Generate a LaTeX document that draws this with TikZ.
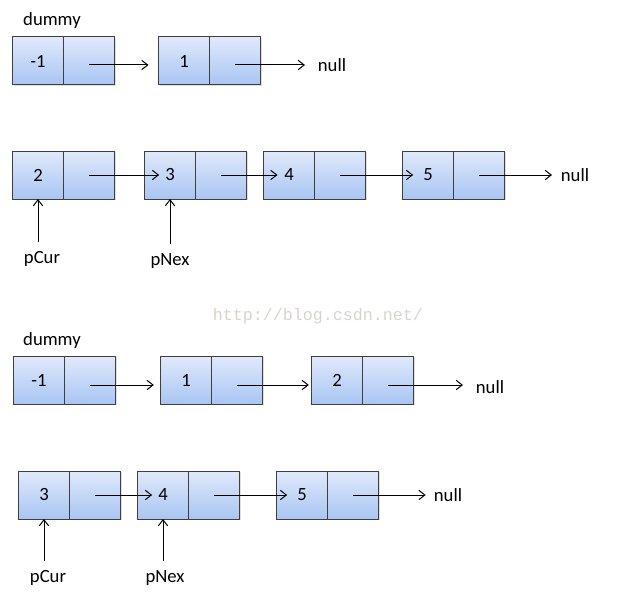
\documentclass[tikz,border=0pt]{standalone}
\usepackage{fontspec}
\setmainfont{Carlito}
\newfontfamily\markfont{Liberation Mono}
\usetikzlibrary{positioning,arrows.meta,shadows}
\definecolor{celltop}{HTML}{E0E9FB}
\definecolor{cellbot}{HTML}{A9C5F3}
\definecolor{celledge}{HTML}{3F3F3F}
\definecolor{markgray}{HTML}{D8D4CC}
\tikzset{
  cell/.style={draw=celledge, line width=0.75pt, top color=celltop, bottom color=cellbot,
    minimum width=38.25pt, minimum height=36pt, inner sep=0pt, outer sep=0pt,
    drop shadow={opacity=0.25, shadow xshift=0.8pt, shadow yshift=-0.8pt}},
  txt/.style={font=\fontsize{14}{17}\selectfont, inner sep=2pt},
  link/.style={line width=0.75pt, -{Straight Barb[length=4.5pt,width=7pt]}}
}
\begin{document}
\begin{tikzpicture}[x=0.75pt, y=-0.75pt]
  \useasboundingbox (0,0) rectangle (617,610);
  % first list
  \node[txt] (d1) at (52,21) {dummy};
  \node[cell,txt] (v11) at (38,61) {-1};
  \node[cell] (p11) [right=0pt of v11] {};
  \node[cell,txt] (v12) at (184,61) {1};
  \node[cell] (p12) [right=0pt of v12] {};
  \node[txt] (n1) at (332,65) {null};
  \draw[link] ([yshift=-3pt]p11.center) -- ([xshift=-7.5pt,yshift=-3pt]v12.west);
  \draw[link] ([yshift=-3pt]p12.center) -- ([xshift=-7.5pt,yshift=-3pt]n1.west |- p12.center);
  % second list
  \node[cell,txt] (v21) at (38,175) {2};
  \node[cell] (p21) [right=0pt of v21] {};
  \node[cell,txt] (v22) at (170,175) {3};
  \node[cell] (p22) [right=0pt of v22] {};
  \node[cell,txt] (v23) at (289,175) {4};
  \node[cell] (p23) [right=0pt of v23] {};
  \node[cell,txt] (v24) at (428,175) {5};
  \node[cell] (p24) [right=0pt of v24] {};
  \node[txt] (n2) at (575,175) {null};
  \draw[link] (p21.center) -- ([xshift=11pt]v22.west);
  \draw[link] (p22.center) -- ([xshift=10.5pt]v23.west);
  \draw[link] (p23.center) -- ([xshift=8pt]v24.west);
  \draw[link] (p24.center) -- ([xshift=-4.5pt]n2.west);
  \node[txt] (c2) at (42,259) {pCur};
  \node[txt] (x2) at (170,261) {pNex};
  \draw[link] ([yshift=5pt]v21.south |- c2.north) -- (v21.south);
  \draw[link] ([yshift=5pt]v22.south |- x2.north) -- (v22.south);
  % watermark
  \node[font=\markfont\fontsize{12.5}{15}\selectfont, text=markgray] (wm) at (318,316) {http://blog.csdn.net/};
  % third list
  \node[txt] (d3) at (52,341) {dummy};
  \node[cell,txt] (v31) at (39,380) {-1};
  \node[cell] (p31) [right=0pt of v31] {};
  \node[cell,txt] (v32) at (186,380) {1};
  \node[cell] (p32) [right=0pt of v32] {};
  \node[cell,txt] (v33) at (337,380) {2};
  \node[cell] (p33) [right=0pt of v33] {};
  \node[txt] (n3) at (490,387) {null};
  \draw[link] ([yshift=-3.75pt]p31.center) -- ([xshift=-5pt,yshift=-3.75pt]v32.west);
  \draw[link] ([yshift=-3.75pt]p32.center) -- ([xshift=-2pt,yshift=-3.75pt]v33.west);
  \draw[link] ([yshift=-3.75pt]p33.center) -- ([xshift=-7.5pt,yshift=-3.75pt]n3.west |- p33.center);
  % fourth list
  \node[cell,txt] (v41) at (44,495) {3};
  \node[cell] (p41) [right=0pt of v41] {};
  \node[cell,txt] (v42) at (163,495) {4};
  \node[cell] (p42) [right=0pt of v42] {};
  \node[cell,txt] (v43) at (302,495) {5};
  \node[cell] (p43) [right=0pt of v43] {};
  \node[txt] (n4) at (448,495) {null};
  \draw[link] (p41.center) -- ([xshift=11pt]v42.west);
  \draw[link] (p42.center) -- ([xshift=8pt]v43.west);
  \draw[link] (p43.center) -- ([xshift=-4pt]n4.west);
  \node[txt] (c4) at (48,578) {pCur};
  \node[txt] (x4) at (165,578) {pNex};
  \draw[link] ([yshift=5pt]v41.south |- c4.north) -- (v41.south);
  \draw[link] ([yshift=5pt]v42.south |- x4.north) -- (v42.south);
\end{tikzpicture}
\end{document}
